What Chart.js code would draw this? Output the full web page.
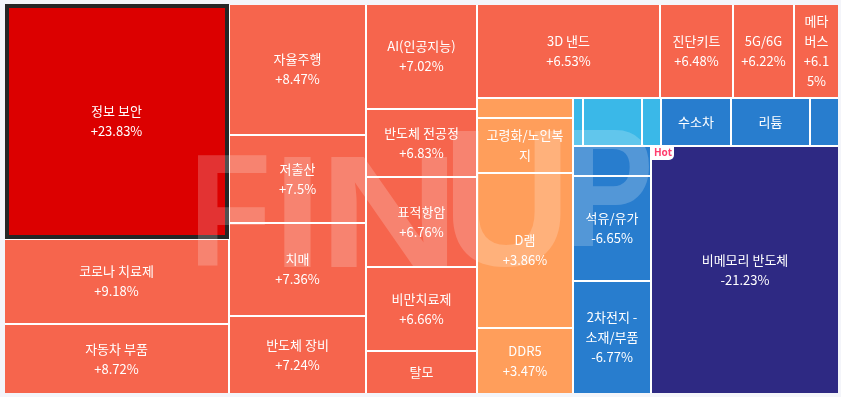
<!DOCTYPE html>
<html>
<head>
<meta charset="utf-8">
<script src="https://cdn.jsdelivr.net/npm/chart.js@4.4.1/dist/chart.umd.min.js"></script>
<style>
    html, body {margin: 0; padding: 0; background: #f4f5fa;}
    #wrap {width: 841px; height: 397px; position: relative;}
</style>
</head>
<body>
<div id="wrap"><canvas id="themeMap"></canvas></div>
<script>
// themes, sorted by change (high -> low). null = tile too small, no label shown
let themeNames = [
    "정보 보안", "코로나 치료제", "자동차 부품",
    "자율주행", "저출산", "치매", "반도체 장비",
    "AI(인공지능)", "반도체 전공정", "표적항암", "비만치료제", "탈모",
    "3D 낸드", "진단키트", "5G/6G", "메타버스",
    null, "고령화/노인복지", "D램", "DDR5",
    null, null, null, "수소차", "리튬", null,
    null, "석유/유가", "2차전지 - 소재/부품",
    "비메모리 반도체"
]
// daily change in %, hidden ones estimated from colour
let themeChanges = [
    23.83, 9.18, 8.72,
    8.47, 7.5, 7.36, 7.24,
    7.02, 6.83, 6.76, 6.66, 6.6,
    6.53, 6.48, 6.22, 6.15,
    4.6, 4.1, 3.86, 3.47,
    -0.4, -0.9, -1.6, -4.2, -4.9, -5.6,
    -6.3, -6.65, -6.77,
    -21.23
]
// tile size (weight)
let themeWeights = [
    528.8, 191.3, 157.5,
    179.5, 120.6, 127.4, 106.9,
    116.6, 75.5, 99.9, 93.2, 47.7,
    172.0, 68.6, 57.3, 42.3,
    19.2, 52.8, 148.8, 63.4,
    4.8, 28.3, 9.1, 33.6, 37.9, 13.9,
    23.4, 81.9, 88.1,
    466.2
]
let selectedTheme = "정보 보안"
let hotTheme = "비메모리 반도체"

// how many tiles go in each strip of the map
let stripSizes = [3, 4, 5, 4, 4, 6, 3, 1]

let MAP_W = 835
let MAP_H = 390
let GAP = 2
let LINE_H = 20

let colorFor = function (v) {
    if (v >= 20) return "#dc0000"
    if (v >= 5) return "#f6654d"
    if (v > 0) return "#ff9e5b"
    if (v > -3) return "#3ab8e8"
    if (v > -10) return "#287dce"
    return "#2e2983"
}

// strip layout: lay each strip along the shorter side of what is left
let layoutCells = function () {
    let total = themeWeights.reduce((a, b) => a + b, 0)
    let scale = MAP_W * MAP_H / total
    let rect = {x: 0, y: 0, w: MAP_W, h: MAP_H}
    let cells = []
    let idx = 0
    stripSizes.forEach(n => {
        let items = []
        for (let i = idx; i < idx + n; i++) items.push(i)
        idx += n
        let area = items.reduce((a, i) => a + themeWeights[i] * scale, 0)
        if (rect.w >= rect.h) {
            let w = area / rect.h
            let yy = rect.y
            items.forEach(i => {
                let h = themeWeights[i] * scale / w
                cells.push({i: i, x0: rect.x, x1: rect.x + w, y0: yy, y1: yy + h})
                yy += h
            })
            rect = {x: rect.x + w, y: rect.y, w: rect.w - w, h: rect.h}
        } else {
            let h = area / rect.w
            let xx = rect.x
            items.forEach(i => {
                let w = themeWeights[i] * scale / h
                cells.push({i: i, x0: xx, x1: xx + w, y0: rect.y, y1: rect.y + h})
                xx += w
            })
            rect = {x: rect.x, y: rect.y + h, w: rect.w, h: rect.h - h}
        }
    })
    return cells
}
let cells = layoutCells()

let wrapText = function (ctx, text, maxW) {
    let lines = []
    let line = ""
    text.split(" ").forEach(word => {
        let test = line ? line + " " + word : word
        if (ctx.measureText(test).width <= maxW) {
            line = test
            return
        }
        if (line) lines.push(line)
        line = ""
        for (let ch of word) {
            if (ctx.measureText(line + ch).width <= maxW) line += ch
            else {
                if (line) lines.push(line)
                line = ch
            }
        }
    })
    if (line) lines.push(line)
    return lines
}

let fmtChange = function (v) {
    return (v > 0 ? "+" : "") + v + "%"
}

// squeeze a glyph into a box (watermark)
let drawGlyph = function (ctx, ch, l, t, r, b) {
    ctx.save()
    ctx.font = "bold 100px 'Liberation Sans'"
    ctx.textAlign = "left"
    ctx.textBaseline = "alphabetic"
    let m = ctx.measureText(ch)
    let iw = m.actualBoundingBoxLeft + m.actualBoundingBoxRight
    let ih = m.actualBoundingBoxAscent + m.actualBoundingBoxDescent
    ctx.translate(l, t)
    ctx.scale((r - l) / iw, (b - t) / ih)
    ctx.fillText(ch, m.actualBoundingBoxLeft, m.actualBoundingBoxAscent)
    ctx.restore()
}

let treemapPlugin = {
    id: "treemap",
    beforeDatasetsDraw(chart) {
        let ctx = chart.ctx
        let x = chart.scales.x
        let y = chart.scales.y
        let area = chart.chartArea
        ctx.save()
        ctx.fillStyle = "#ffffff"
        ctx.fillRect(area.left, area.top, area.width - GAP, area.height - GAP)

        let boxes = cells.map(c => ({
            i: c.i,
            l: Math.round(x.getPixelForValue(c.x0)),
            r: Math.round(x.getPixelForValue(c.x1)) - GAP,
            t: Math.round(y.getPixelForValue(c.y0)),
            b: Math.round(y.getPixelForValue(c.y1)) - GAP
        }))

        boxes.forEach(bx => {
            ctx.fillStyle = colorFor(themeChanges[bx.i])
            ctx.fillRect(bx.l, bx.t, bx.r - bx.l, bx.b - bx.t)
            if (themeNames[bx.i] === selectedTheme) {
                ctx.strokeStyle = "#262626"
                ctx.lineWidth = 4
                ctx.strokeRect(bx.l + 2, bx.t + 1, bx.r + 1 - bx.l - 4, bx.b - bx.t + 2 - 4)
            }
        })

        // FINUP watermark
        ctx.fillStyle = "rgba(255,255,255,0.2)"
        drawGlyph(ctx, "F", 197, 155, 267, 267)
        drawGlyph(ctx, "I", 283, 155, 312, 267)
        drawGlyph(ctx, "N", 330, 155, 448, 267)
        drawGlyph(ctx, "U", 453, 130, 562, 267)
        drawGlyph(ctx, "P", 573, 130, 650, 248)

        boxes.forEach(bx => {
            let name = themeNames[bx.i]
            if (themeNames[bx.i] === hotTheme) {
                ctx.fillStyle = "#ffffff"
                ctx.beginPath()
                ctx.roundRect(bx.l, bx.t, 22, 13, [0, 0, 5, 0])
                ctx.fill()
                ctx.fillStyle = "#ff3d6e"
                ctx.font = "bold 10px 'Noto Sans'"
                ctx.textAlign = "center"
                ctx.textBaseline = "middle"
                ctx.fillText("Hot", bx.l + 11, bx.t + 6.5)
            }
            if (!name) return
            ctx.font = "13px 'Noto Sans CJK KR', 'Noto Sans', sans-serif"
            ctx.fillStyle = "#ffffff"
            ctx.textAlign = "center"
            ctx.textBaseline = "middle"
            let w = bx.r - bx.l
            let h = bx.b - bx.t
            let maxW = w - 11
            let lines = wrapText(ctx, name, maxW).concat(wrapText(ctx, fmtChange(themeChanges[bx.i]), maxW))
            let maxLines = Math.floor((h - 8) / LINE_H)
            lines = lines.slice(0, maxLines)
            let cx = (bx.l + bx.r) / 2
            let cy = (bx.t + bx.b) / 2
            lines.forEach((ln, k) => {
                ctx.fillText(ln, cx, cy + (k - (lines.length - 1) / 2) * LINE_H)
            })
        })
        ctx.restore()
    }
}

let chart = new Chart(document.getElementById("themeMap"), {
    type: "scatter",
    data: {
        datasets: [{
            data: cells.map(c => ({x: (c.x0 + c.x1) / 2, y: (c.y0 + c.y1) / 2})),
            pointRadius: 0,
            pointHoverRadius: 0
        }]
    },
    options: {
        responsive: true,
        maintainAspectRatio: false,
        animation: false,
        layout: {padding: {left: 5, top: 5, right: 1, bottom: 2}},
        scales: {
            x: {type: "linear", display: false, min: 0, max: MAP_W},
            y: {type: "linear", display: false, min: 0, max: MAP_H, reverse: true}
        },
        plugins: {
            legend: {display: false},
            tooltip: {
                callbacks: {
                    label: ctx => {
                        let i = cells[ctx.dataIndex].i
                        return (themeNames[i] || "") + " " + fmtChange(themeChanges[i])
                    }
                }
            }
        }
    },
    plugins: [treemapPlugin]
})
</script>
</body>
</html>
